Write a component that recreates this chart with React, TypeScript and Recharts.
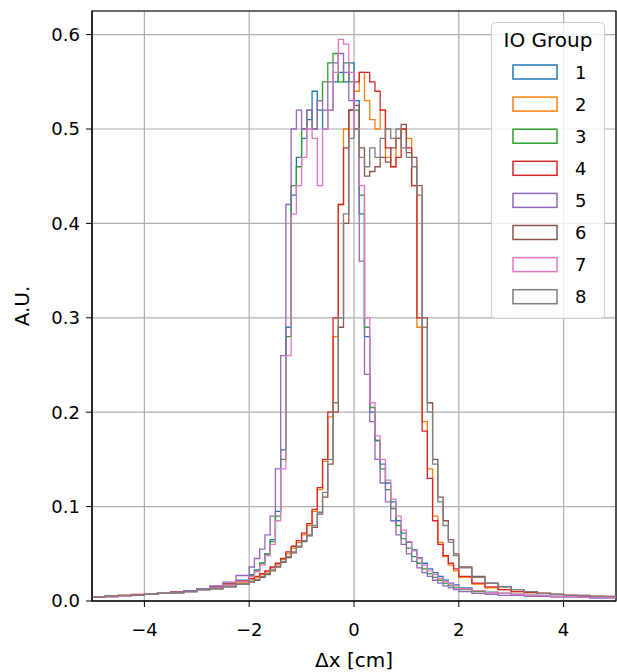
import { LineChart, Line, XAxis, YAxis, CartesianGrid, ReferenceArea } from 'recharts'

// bin edges: coarse in the tails, 0.1 cm in the core
const binEdges = [
  -5, -4.75, -4.5, -4.25, -4, -3.75, -3.5, -3.25, -3, -2.75, -2.5, -2.25,
  -2, -1.9, -1.8, -1.7, -1.6, -1.5, -1.4, -1.3, -1.2, -1.1, -1, -0.9, -0.8, -0.7, -0.6, -0.5, -0.4, -0.3, -0.2, -0.1,
  0, 0.1, 0.2, 0.3, 0.4, 0.5, 0.6, 0.7, 0.8, 0.9, 1, 1.1, 1.2, 1.3, 1.4, 1.5, 1.6, 1.7, 1.8, 1.9,
  2, 2.25, 2.5, 2.75, 3, 3.25, 3.5, 3.75, 4, 4.25, 4.5, 4.75, 5,
]

const group1 = [
  0.004, 0.005, 0.005, 0.006, 0.007, 0.008, 0.009, 0.011, 0.013, 0.015, 0.018, 0.022,
  0.028, 0.033, 0.04, 0.05, 0.065, 0.095, 0.16, 0.29, 0.43, 0.47, 0.49, 0.51, 0.54, 0.52, 0.5, 0.52, 0.55, 0.56, 0.55, 0.57,
  0.53, 0.41, 0.28, 0.2, 0.17, 0.145, 0.125, 0.105, 0.085, 0.072, 0.062, 0.054, 0.046, 0.04, 0.034, 0.03, 0.026, 0.022, 0.019, 0.017,
  0.014, 0.011, 0.009, 0.008, 0.007, 0.006, 0.006, 0.005, 0.005, 0.004, 0.004, 0.004,
]
const group2 = [
  0.004, 0.005, 0.006, 0.006, 0.007, 0.008, 0.009, 0.011, 0.012, 0.014, 0.017, 0.02,
  0.023, 0.025, 0.028, 0.031, 0.035, 0.039, 0.044, 0.05, 0.056, 0.062, 0.07, 0.08, 0.095, 0.118, 0.148, 0.195, 0.28, 0.42, 0.5, 0.52,
  0.54, 0.56, 0.53, 0.51, 0.5, 0.52, 0.47, 0.46, 0.49, 0.5, 0.49, 0.44, 0.29, 0.19, 0.14, 0.09, 0.062, 0.047, 0.038, 0.032,
  0.025, 0.018, 0.014, 0.012, 0.01, 0.009, 0.008, 0.007, 0.006, 0.005, 0.005, 0.004,
]
const group3 = [
  0.004, 0.005, 0.005, 0.006, 0.007, 0.008, 0.009, 0.01, 0.012, 0.014, 0.017, 0.021,
  0.027, 0.032, 0.04, 0.05, 0.063, 0.09, 0.15, 0.28, 0.44, 0.46, 0.5, 0.52, 0.5, 0.53, 0.55, 0.57, 0.58, 0.55, 0.57, 0.55,
  0.52, 0.43, 0.29, 0.205, 0.17, 0.14, 0.118, 0.098, 0.08, 0.066, 0.056, 0.047, 0.04, 0.034, 0.029, 0.025, 0.022, 0.019, 0.016, 0.014,
  0.012, 0.01, 0.009, 0.008, 0.007, 0.006, 0.005, 0.005, 0.005, 0.004, 0.004, 0.004,
]
const group4 = [
  0.004, 0.005, 0.006, 0.007, 0.007, 0.008, 0.01, 0.011, 0.013, 0.015, 0.018, 0.021,
  0.024, 0.026, 0.029, 0.032, 0.036, 0.04, 0.045, 0.052, 0.058, 0.064, 0.072, 0.082, 0.097, 0.12, 0.15, 0.2, 0.3, 0.42, 0.48, 0.52,
  0.55, 0.56, 0.56, 0.55, 0.54, 0.52, 0.48, 0.46, 0.47, 0.5, 0.48, 0.44, 0.3, 0.18, 0.13, 0.085, 0.06, 0.048, 0.04, 0.034,
  0.026, 0.019, 0.015, 0.012, 0.01, 0.009, 0.008, 0.007, 0.006, 0.005, 0.005, 0.004,
]
const group5 = [
  0.004, 0.005, 0.005, 0.006, 0.007, 0.008, 0.009, 0.011, 0.013, 0.016, 0.02, 0.027,
  0.036, 0.045, 0.055, 0.07, 0.09, 0.14, 0.26, 0.42, 0.5, 0.52, 0.5, 0.52, 0.5, 0.53, 0.52, 0.55, 0.57, 0.58, 0.56, 0.53,
  0.5, 0.36, 0.24, 0.19, 0.15, 0.125, 0.105, 0.085, 0.07, 0.06, 0.05, 0.042, 0.035, 0.03, 0.026, 0.022, 0.019, 0.016, 0.014, 0.012,
  0.01, 0.008, 0.007, 0.006, 0.006, 0.005, 0.005, 0.004, 0.004, 0.004, 0.003, 0.003,
]
const group6 = [
  0.004, 0.005, 0.005, 0.006, 0.007, 0.008, 0.009, 0.01, 0.012, 0.013, 0.015, 0.018,
  0.02, 0.022, 0.025, 0.028, 0.032, 0.036, 0.041, 0.046, 0.051, 0.057, 0.063, 0.069, 0.078, 0.092, 0.11, 0.145, 0.2, 0.29, 0.4, 0.52,
  0.525, 0.48, 0.45, 0.455, 0.46, 0.47, 0.465, 0.48, 0.49, 0.505, 0.475, 0.47, 0.44, 0.3, 0.21, 0.15, 0.11, 0.085, 0.065, 0.05,
  0.036, 0.026, 0.019, 0.015, 0.012, 0.01, 0.008, 0.007, 0.006, 0.006, 0.005, 0.005,
]
const group7 = [
  0.004, 0.004, 0.005, 0.006, 0.007, 0.008, 0.009, 0.01, 0.012, 0.014, 0.017, 0.021,
  0.026, 0.031, 0.038, 0.048, 0.06, 0.085, 0.14, 0.26, 0.41, 0.44, 0.47, 0.5, 0.49, 0.44, 0.5, 0.52, 0.56, 0.595, 0.59, 0.56,
  0.5, 0.44, 0.3, 0.21, 0.175, 0.15, 0.128, 0.108, 0.09, 0.075, 0.063, 0.053, 0.045, 0.038, 0.032, 0.028, 0.024, 0.021, 0.018, 0.016,
  0.013, 0.011, 0.009, 0.008, 0.007, 0.006, 0.006, 0.005, 0.005, 0.004, 0.004, 0.004,
]
const group8 = [
  0.004, 0.005, 0.006, 0.006, 0.007, 0.008, 0.009, 0.01, 0.012, 0.013, 0.015, 0.018,
  0.021, 0.023, 0.026, 0.029, 0.033, 0.037, 0.042, 0.047, 0.052, 0.058, 0.064, 0.07, 0.08, 0.094, 0.115, 0.15, 0.21, 0.3, 0.41, 0.49,
  0.5, 0.47, 0.46, 0.48, 0.47, 0.49, 0.5, 0.49, 0.5, 0.48, 0.47, 0.46, 0.43, 0.29, 0.2, 0.145, 0.105, 0.08, 0.062, 0.048,
  0.035, 0.025, 0.019, 0.015, 0.012, 0.01, 0.008, 0.007, 0.006, 0.006, 0.005, 0.005,
]

const groupNames = ['1', '2', '3', '4', '5', '6', '7', '8']
const groupValues = [group1, group2, group3, group4, group5, group6, group7, group8]
const colors = ['#1f77b4', '#ff7f0e', '#2ca02c', '#d62728', '#9467bd', '#8c564b', '#e377c2', '#7f7f7f']

const xTicks = [-4, -2, 0, 2, 4]
const yTicks = [0, 0.1, 0.2, 0.3, 0.4, 0.5, 0.6]

// one row per bin edge; the last edge repeats the last bin so the step closes
const rows = binEdges.map((x, i) => {
  const row: Record<string, number> = { x }
  groupValues.forEach((vals, k) => {
    row[`g${k + 1}`] = vals[Math.min(i, vals.length - 1)]
  })
  return row
})

const FONT = 'DejaVu Sans, sans-serif'

function HistLegend() {
  return (
    <svg width={114} height={297} style={{ position: 'absolute', left: 491, top: 22, overflow: 'visible' }}>
      <rect x={0.5} y={0.5} width={113} height={296} rx={4} fill="rgba(255,255,255,0.8)" stroke="#cccccc" />
      <text x={57} y={25} textAnchor="middle" fontFamily={FONT} fontSize={20} fill="#000">IO Group</text>
      {groupNames.map((name, i) => {
        const cy = 50 + i * 32.1
        return (
          <g key={name}>
            <rect x={22} y={cy - 7} width={44} height={14} fill="none" stroke={colors[i]} strokeWidth={1.5} />
            <text x={84} y={cy + 6.5} fontFamily={FONT} fontSize={18} fill="#000">{name}</text>
          </g>
        )
      })}
    </svg>
  )
}

export default function App() {
  return (
    <div style={{ position: 'absolute', left: 0, top: 0, width: 617, height: 672, background: '#fff' }}>
      <LineChart width={617} height={672} data={rows} margin={{ top: 11, right: 1, bottom: 0, left: 0 }}>
        <CartesianGrid stroke="#b0b0b0" strokeWidth={1.2} />
        <XAxis
          dataKey="x"
          type="number"
          domain={[-5, 5]}
          ticks={xTicks}
          allowDataOverflow
          height={71}
          tickSize={6}
          tickMargin={16}
          stroke="#000"
          tick={{ fill: '#000', fontSize: 18, fontFamily: FONT }}
          tickFormatter={(v: number) => (v < 0 ? `\u2212${Math.abs(v)}` : `${v}`)}
          label={{ value: 'Δx [cm]', position: 'insideBottom', offset: 5, fill: '#000', fontSize: 20, fontFamily: FONT }}
        />
        <YAxis
          type="number"
          domain={[0, 0.625]}
          ticks={yTicks}
          allowDataOverflow
          width={92}
          tickSize={6}
          tickMargin={6}
          stroke="#000"
          tick={{ fill: '#000', fontSize: 18, fontFamily: FONT }}
          tickFormatter={(v: number) => v.toFixed(1)}
          label={{
            value: 'A.U.',
            angle: -90,
            position: 'insideLeft',
            offset: 22,
            fill: '#000',
            fontSize: 20,
            fontFamily: FONT,
            style: { textAnchor: 'middle' },
          }}
        />
        {groupNames.map((name, i) => (
          <Line
            key={name}
            type="stepAfter"
            dataKey={`g${i + 1}`}
            stroke={colors[i]}
            strokeWidth={1.3}
            dot={false}
            isAnimationActive={false}
          />
        ))}
        <ReferenceArea x1={-5} x2={5} y1={0} y2={0.625} fill="none" stroke="#000" strokeWidth={1.2} ifOverflow="visible" />
      </LineChart>
      <HistLegend />
    </div>
  )
}
